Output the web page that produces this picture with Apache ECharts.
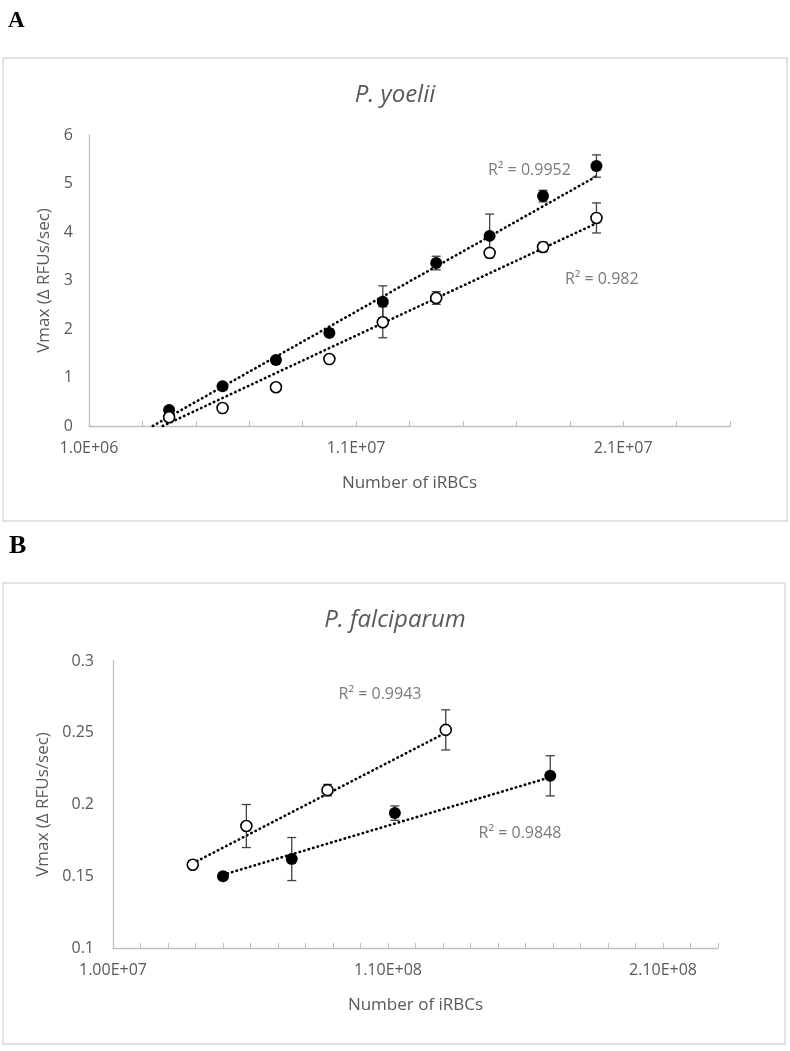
<!DOCTYPE html>
<html><head><meta charset="utf-8">
<script src="https://cdn.jsdelivr.net/npm/echarts@6/dist/echarts.min.js"></script>
<style>html,body{margin:0;padding:0;background:#fff}#c{width:790px;height:1051px}</style>
</head><body><div id="c"></div>
<script>
// ---- Panel A: P. yoelii ----
const yoeliiX = [4e6, 6e6, 8e6, 1e7, 1.2e7, 1.4e7, 1.6e7, 1.8e7, 2e7];
const yoeliiFilled = [0.33, 0.82, 1.36, 1.92, 2.56, 3.36, 3.92, 4.74, 5.36];
const yoeliiFilledErr = [0.05, 0.05, 0.06, 0.08, 0.33, 0.14, 0.45, 0.12, 0.23];
const yoeliiOpen = [0.18, 0.37, 0.80, 1.38, 2.14, 2.64, 3.57, 3.69, 4.29];
const yoeliiOpenErr = [0.04, 0.04, 0.05, 0.06, 0.32, 0.13, 0.08, 0.10, 0.31];
const yoeliiTrendFilled = [[3.39e6, 0], [2e7, 5.15]];
const yoeliiTrendOpen = [[3.76e6, 0], [2e7, 4.18]];
const yoeliiR2 = ['R² = 0.9952', 'R² = 0.982'];
const yoeliiR2Pos = [[1.749e7, 5.26], [2.02e7, 3.03]];

// ---- Panel B: P. falciparum ----
const falcOpenX = [3.9e7, 5.85e7, 8.8e7, 1.31e8];
const falcOpen = [0.158, 0.185, 0.210, 0.252];
const falcOpenErr = [0.002, 0.015, 0.004, 0.014];
const falcFilledX = [5e7, 7.5e7, 1.125e8, 1.69e8];
const falcFilled = [0.150, 0.162, 0.194, 0.220];
const falcFilledErr = [0.002, 0.015, 0.005, 0.014];
const falcTrendOpen = [[3.9e7, 0.159], [1.31e8, 0.250]];
const falcTrendFilled = [[5e7, 0.151], [1.69e8, 0.219]];
const falcR2 = ['R² = 0.9943', 'R² = 0.9848'];
const falcR2Pos = [[1.071e8, 0.277], [1.58e8, 0.1795]];

const titles = ['P. yoelii', 'P. falciparum'];
const xName = 'Number of iRBCs';
const yName = 'Vmax (Δ RFUs/sec)';

const GRAY = '#595959', AXIS = '#bfbfbf', FONT = 'Open Sans';

function sci(v, d) {
  const e = Math.floor(Math.log10(v) + 1e-9);
  const m = v / Math.pow(10, e);
  return m.toFixed(d) + 'E+' + String(e).padStart(2, '0');
}
function zip(xs, ys, es) { return xs.map((x, i) => es ? [x, ys[i], es[i]] : [x, ys[i]]); }

function errRender(params, api) {
  const x = api.value(0), y = api.value(1), e = api.value(2);
  const top = api.coord([x, y + e]), bot = api.coord([x, y - e]);
  const w = 4.5;
  const style = { stroke: '#404040', lineWidth: 1.3 };
  return { type: 'group', children: [
    { type: 'line', shape: { x1: top[0], y1: top[1], x2: bot[0], y2: bot[1] }, style },
    { type: 'line', shape: { x1: top[0] - w, y1: top[1], x2: top[0] + w, y2: top[1] }, style },
    { type: 'line', shape: { x1: bot[0] - w, y1: bot[1], x2: bot[0] + w, y2: bot[1] }, style }
  ]};
}

function panelSeries(idx, trendF, trendO, fData, fErr, oData, oErr, r2, r2pos) {
  const ax = { xAxisIndex: idx, yAxisIndex: idx };
  const dotted = { color: '#000', width: 2.6, type: [0.5, 4.2], cap: 'round' };
  return [
    Object.assign({ type: 'line', data: trendF, symbol: 'none', lineStyle: dotted, z: 2, silent: true }, ax),
    Object.assign({ type: 'line', data: trendO, symbol: 'none', lineStyle: dotted, z: 2, silent: true }, ax),
    Object.assign({ type: 'custom', renderItem: errRender, data: fErr, dimensions: ['x', 'y', 'e'], encode: { x: 0, y: 1 }, z: 3 }, ax),
    Object.assign({ type: 'custom', renderItem: errRender, data: oErr, dimensions: ['x', 'y', 'e'], encode: { x: 0, y: 1 }, z: 3 }, ax),
    Object.assign({ type: 'scatter', data: fData, symbol: 'circle', symbolSize: 12, itemStyle: { color: '#000', opacity: 1 }, z: 4 }, ax),
    Object.assign({ type: 'scatter', data: oData, symbol: 'circle', symbolSize: 11, itemStyle: { color: '#fff', borderColor: '#000', borderWidth: 1.6, opacity: 1 }, z: 4 }, ax),
    Object.assign({ type: 'scatter', symbolSize: 0, silent: true, z: 5,
      data: r2pos.map((p, i) => ({ value: p, name: r2[i] })),
      label: { show: true, position: 'inside', formatter: p => p.name, color: GRAY, fontSize: 16, fontFamily: FONT } }, ax)
  ];
}

const axisText = { color: GRAY, fontSize: 16, fontFamily: FONT };
const nameText = { color: GRAY, fontSize: 17, fontFamily: FONT };

const option = {
  animation: false,
  backgroundColor: '#fff',
  title: [
    { text: titles[0], left: 'center', top: 78, textStyle: { fontStyle: 'italic', fontWeight: 'normal', fontSize: 24, color: GRAY, fontFamily: FONT } },
    { text: titles[1], left: 'center', top: 603, textStyle: { fontStyle: 'italic', fontWeight: 'normal', fontSize: 24, color: GRAY, fontFamily: FONT } }
  ],
  graphic: [
    { type: 'rect', shape: { x: 3, y: 58, width: 784, height: 463 }, style: { fill: 'none', stroke: '#d9d9d9', lineWidth: 1.5 }, z: -1 },
    { type: 'rect', shape: { x: 3, y: 583, width: 782, height: 461 }, style: { fill: 'none', stroke: '#d9d9d9', lineWidth: 1.5 }, z: -1 },
    { type: 'text', left: 8, top: 10, style: { text: 'A', font: 'bold 23px "Liberation Serif", serif', fill: '#000' } },
    { type: 'text', left: 9, top: 533, style: { text: 'B', font: 'bold 26px "Liberation Serif", serif', fill: '#000' } }
  ],
  grid: [
    { left: 89, right: 60, top: 135, bottom: 625 },
    { left: 113, right: 72, top: 661, bottom: 103 }
  ],
  xAxis: [
    { type: 'value', gridIndex: 0, min: 1e6, max: 2.5e7, interval: 2e6,
      name: xName, nameLocation: 'middle', nameGap: 49, nameTextStyle: nameText,
      axisLine: { lineStyle: { color: AXIS, width: 1.3 } },
      axisTick: { show: true, inside: true, length: 5, lineStyle: { color: AXIS } },
      splitLine: { show: false },
      axisLabel: Object.assign({ margin: 14, formatter: v => (Math.round((v - 1e6) / 2e6) % 5 === 0) ? sci(v, 1) : '' }, axisText) },
    { type: 'value', gridIndex: 1, min: 1e7, max: 2.3e8, interval: 1e7,
      name: xName, nameLocation: 'middle', nameGap: 49, nameTextStyle: nameText,
      axisLine: { lineStyle: { color: AXIS, width: 1.3 } },
      axisTick: { show: true, inside: true, length: 5, lineStyle: { color: AXIS } },
      splitLine: { show: false },
      axisLabel: Object.assign({ margin: 14, formatter: v => (Math.round((v - 1e7) / 1e7) % 10 === 0) ? sci(v, 2) : '' }, axisText) }
  ],
  yAxis: [
    { type: 'value', gridIndex: 0, min: 0, max: 6, interval: 1,
      name: yName, nameLocation: 'middle', nameGap: 36, nameTextStyle: nameText,
      axisLine: { show: true, lineStyle: { color: AXIS, width: 1.3 } },
      axisTick: { show: false }, splitLine: { show: false },
      axisLabel: Object.assign({ margin: 16 }, axisText) },
    { type: 'value', gridIndex: 1, min: 0.1, max: 0.3, interval: 0.05,
      name: yName, nameLocation: 'middle', nameGap: 60, nameTextStyle: nameText,
      axisLine: { show: true, lineStyle: { color: AXIS, width: 1.3 } },
      axisTick: { show: false }, splitLine: { show: false },
      axisLabel: Object.assign({ margin: 19, formatter: v => String(+v.toFixed(2)) }, axisText) }
  ],
  series: [].concat(
    panelSeries(0, yoeliiTrendFilled, yoeliiTrendOpen,
      zip(yoeliiX, yoeliiFilled), zip(yoeliiX, yoeliiFilled, yoeliiFilledErr),
      zip(yoeliiX, yoeliiOpen), zip(yoeliiX, yoeliiOpen, yoeliiOpenErr),
      yoeliiR2, yoeliiR2Pos),
    panelSeries(1, falcTrendFilled, falcTrendOpen,
      zip(falcFilledX, falcFilled), zip(falcFilledX, falcFilled, falcFilledErr),
      zip(falcOpenX, falcOpen), zip(falcOpenX, falcOpen, falcOpenErr),
      falcR2, falcR2Pos)
  )
};
option.series.forEach(s => { s.clip = false; });
const chart = echarts.init(document.getElementById('c'), null, { renderer: 'canvas' });
chart.setOption(option);
</script>
</body></html>
